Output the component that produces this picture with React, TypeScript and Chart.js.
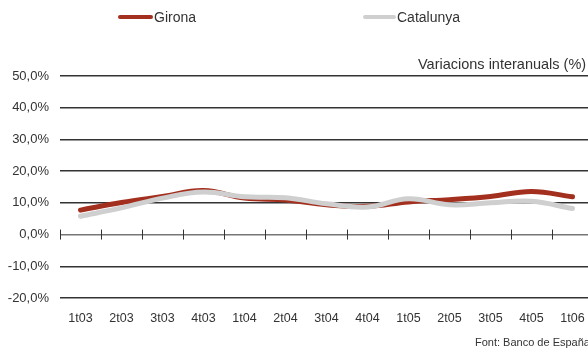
import React, { useEffect, useRef } from "react";
import { Chart, registerables } from "chart.js";

Chart.register(...registerables);

const categories = ["1t03", "2t03", "3t03", "4t03", "1t04", "2t04", "3t04", "4t04", "1t05", "2t05", "3t05", "4t05", "1t06"];
const gironaValues = [7.7, 10.1, 12.0, 13.9, 11.5, 10.9, 9.4, 8.9, 10.3, 11.0, 12.0, 13.6, 11.9];
const catalunyaValues = [5.8, 8.4, 11.5, 13.4, 11.9, 11.6, 9.7, 8.7, 11.3, 9.4, 10.0, 10.5, 8.2];
const yTicks = [-20, -10, 0, 10, 20, 30, 40, 50];

const RED = "#a3301f";
const GRAY = "#cfcfcf";
const TEXT = "#333333";
const FONT = "'Liberation Sans', Arial, sans-serif";

const zeroTicksPlugin = {
  id: "zeroTicks",
  beforeDatasetsDraw(chart: any) {
    const x = chart.scales.x;
    const y = chart.scales.y;
    const ctx = chart.ctx;
    const y0 = y.getPixelForValue(0);
    const step = x.getPixelForValue(1) - x.getPixelForValue(0);
    ctx.save();
    ctx.strokeStyle = "#333";
    ctx.lineWidth = 1;
    for (let i = 0; i <= categories.length; i++) {
      const px = Math.round(x.getPixelForValue(0) - step / 2 + i * step) + 0.5;
      ctx.beginPath();
      ctx.moveTo(px, y0 - 5);
      ctx.lineTo(px, y0 + 5);
      ctx.stroke();
    }
    ctx.restore();
  },
};

function fmt(v: number) {
  return v.toFixed(1).replace(".", ",") + "%";
}

export default function App() {
  const ref = useRef<HTMLCanvasElement>(null);
  useEffect(() => {
    if (!ref.current) return;
    const chart = new Chart(ref.current, {
      type: "line",
      data: {
        labels: categories,
        datasets: [
          {
            label: "Girona",
            data: gironaValues,
            borderColor: RED,
            backgroundColor: RED,
            borderWidth: 5,
            borderCapStyle: "round",
            pointRadius: 0,
            tension: 0.4,
            order: 1,
          },
          {
            label: "Catalunya",
            data: catalunyaValues,
            borderColor: GRAY,
            backgroundColor: GRAY,
            borderWidth: 5,
            borderCapStyle: "round",
            pointRadius: 0,
            tension: 0.4,
            order: 0,
          },
        ],
      },
      options: {
        animation: false,
        responsive: false,
        maintainAspectRatio: false,
        layout: { padding: { top: 76, right: 7, bottom: 13, left: 0 } },
        plugins: { legend: { display: false }, tooltip: { enabled: false } },
        scales: {
          x: {
            offset: true,
            grid: { display: false, drawTicks: false },
            border: { display: false },
            ticks: {
              color: TEXT,
              font: { family: FONT, size: 12.5 },
              padding: 13,
              maxRotation: 0,
              autoSkip: false,
            },
            afterFit(scale: any) {
              scale.height = 40;
            },
          },
          y: {
            min: yTicks[0],
            max: yTicks[yTicks.length - 1],
            afterBuildTicks(scale: any) {
              scale.ticks = yTicks.map((v) => ({ value: v }));
            },
            grid: {
              drawTicks: false,
              color: (c: any) => (c.tick && c.tick.value === 0 ? "#777" : "#333"),
              lineWidth: 1.5,
            },
            border: { display: false },
            ticks: {
              color: TEXT,
              font: { family: FONT, size: 13 },
              padding: 11,
              callback: (v: any) => fmt(Number(v)),
            },
            afterFit(scale: any) {
              scale.width = 60;
            },
          },
        },
      },
      plugins: [zeroTicksPlugin],
    } as any);
    return () => chart.destroy();
  }, []);

  const txt: React.CSSProperties = {
    position: "absolute",
    fontFamily: FONT,
    color: TEXT,
    whiteSpace: "nowrap",
    lineHeight: 1,
  };

  return (
    <div style={{ position: "fixed", left: 0, top: 0, width: 588, height: 351, overflow: "hidden", background: "#fff" }}>
      <div style={{ position: "absolute", left: 0, top: 0, width: 600, height: 351 }}>
        <canvas ref={ref} width={600} height={351} style={{ width: 600, height: 351, display: "block" }} />
      </div>
      <div style={{ position: "absolute", left: 118, top: 15, width: 35, height: 4, borderRadius: 2, background: RED }} />
      <div style={{ ...txt, left: 154, top: 10, fontSize: 14 }}>Girona</div>
      <div style={{ position: "absolute", left: 363, top: 15, width: 33, height: 4, borderRadius: 2, background: GRAY }} />
      <div style={{ ...txt, left: 397, top: 10, fontSize: 14 }}>Catalunya</div>
      <div style={{ ...txt, left: 418, top: 57, fontSize: 14.5 }}>Variacions interanuals (%)</div>
      <div style={{ ...txt, left: 475, top: 337, fontSize: 11 }}>Font: Banco de España</div>
    </div>
  );
}
